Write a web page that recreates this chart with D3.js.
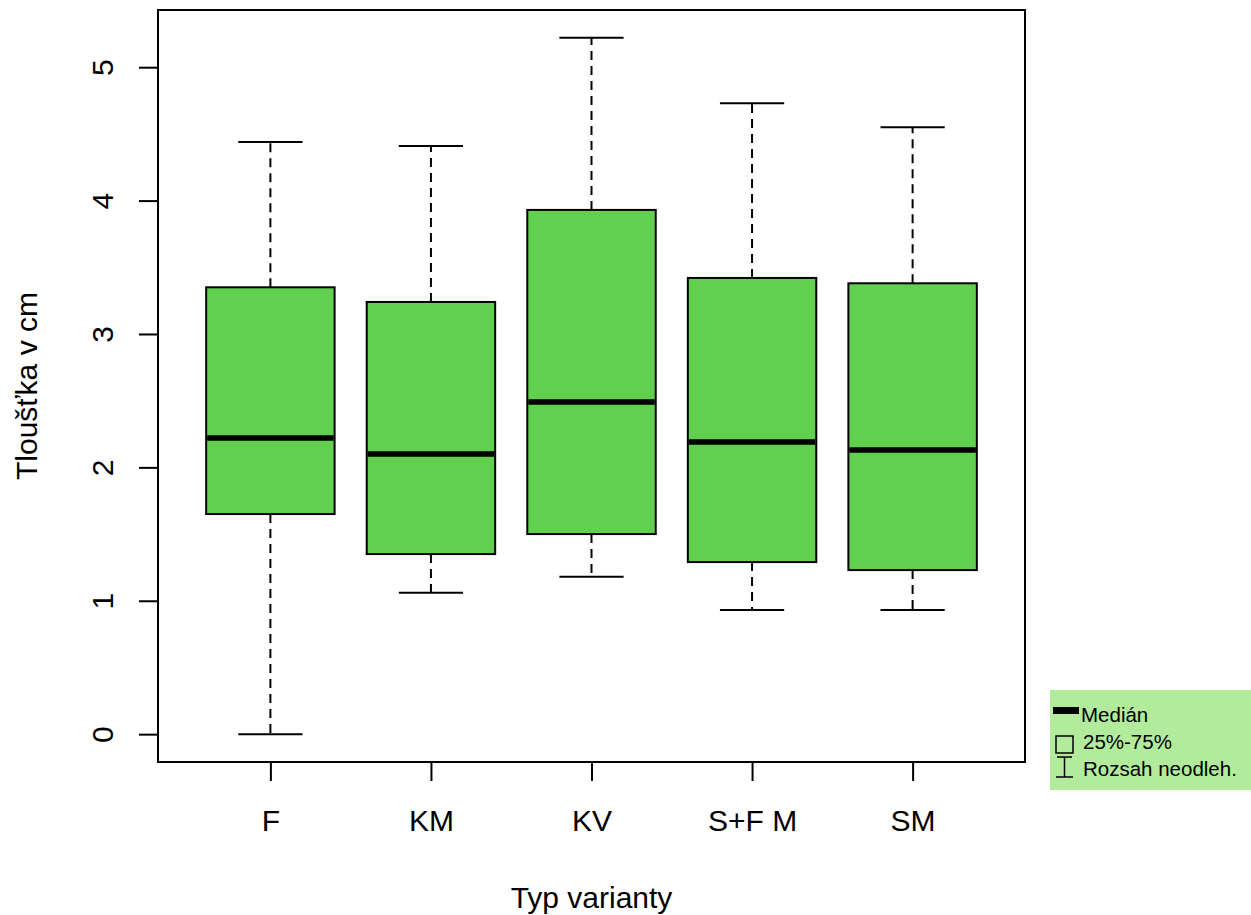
<!DOCTYPE html>
<html>
<head>
<meta charset="utf-8">
<script src="https://cdn.jsdelivr.net/npm/d3@7"></script>
<style>
  body { margin: 0; background: #fff; }
  svg { display: block; font-family: "Liberation Sans", Arial, sans-serif; }
</style>
</head>
<body>
<div id="chart"></div>
<script>
// Box plot data
const categories = ['F', 'KM', 'KV', 'S+F M', 'SM'];
const whiskerLow  = [0.00, 1.06, 1.18, 0.93, 0.93];
const q1          = [1.65, 1.35, 1.50, 1.29, 1.23];
const medians     = [2.22, 2.10, 2.49, 2.19, 2.13];
const q3          = [3.35, 3.24, 3.93, 3.42, 3.38];
const whiskerHigh = [4.44, 4.41, 5.22, 4.73, 4.55];
const yTicks = [0, 1, 2, 3, 4, 5];
const legendLabels = ['Medián', '25%-75%', 'Rozsah neodleh.'];

const boxes = categories.map((name, i) => ({
    name, pos: i + 1,
    lo: whiskerLow[i], q1: q1[i], med: medians[i], q3: q3[i], hi: whiskerHigh[i]
}));

const W = 1251, H = 915;
const plot = { left: 158, top: 10, right: 1025, bottom: 762 };

const svg = d3.select('#chart').append('svg')
    .attr('width', W)
    .attr('height', H);

// R style scales with 4% padding
const x = d3.scaleLinear().domain([0.3, categories.length + 0.7]).range([plot.left, plot.right]);
const yMin = d3.min(whiskerLow), yMax = d3.max(whiskerHigh);
const pad = (yMax - yMin) * 0.04;
const y = d3.scaleLinear().domain([yMin - pad, yMax + pad]).range([plot.bottom, plot.top]);

const boxW = x(1.8) - x(1);
const green = '#61d04f';

// Whiskers
const g = svg.append('g');
const box = g.selectAll('.box')
    .data(boxes)
    .enter()
    .append('g')
    .attr('class', 'box');

box.append('line')
    .attr('x1', d => x(d.pos)).attr('x2', d => x(d.pos))
    .attr('y1', d => y(d.q3)).attr('y2', d => y(d.hi))
    .attr('stroke', '#000').attr('stroke-width', 2).attr('stroke-dasharray', '9,6');
box.append('line')
    .attr('x1', d => x(d.pos)).attr('x2', d => x(d.pos))
    .attr('y1', d => y(d.q1)).attr('y2', d => y(d.lo))
    .attr('stroke', '#000').attr('stroke-width', 2).attr('stroke-dasharray', '9,6');
['hi', 'lo'].forEach(k => {
    box.append('line')
        .attr('x1', d => x(d.pos) - boxW / 4).attr('x2', d => x(d.pos) + boxW / 4)
        .attr('y1', d => y(d[k])).attr('y2', d => y(d[k]))
        .attr('stroke', '#000').attr('stroke-width', 2);
});

// Boxes
box.append('rect')
    .attr('x', d => x(d.pos) - boxW / 2)
    .attr('y', d => y(d.q3))
    .attr('width', boxW)
    .attr('height', d => y(d.q1) - y(d.q3))
    .attr('fill', green)
    .attr('stroke', '#000')
    .attr('stroke-width', 2);

// Medians
box.append('line')
    .attr('x1', d => x(d.pos) - boxW / 2 + 1).attr('x2', d => x(d.pos) + boxW / 2 - 1)
    .attr('y1', d => y(d.med)).attr('y2', d => y(d.med))
    .attr('stroke', '#000').attr('stroke-width', 5.5);

// Frame
svg.append('rect')
    .attr('x', plot.left).attr('y', plot.top)
    .attr('width', plot.right - plot.left)
    .attr('height', plot.bottom - plot.top)
    .attr('fill', 'none').attr('stroke', '#000').attr('stroke-width', 2);

// Y axis
const yAxis = svg.append('g')
    .attr('transform', `translate(${plot.left},0)`)
    .call(d3.axisLeft(y).tickValues(yTicks).tickSize(19).tickFormat(d3.format('d')));
yAxis.select('.domain').remove();
yAxis.selectAll('.tick line').attr('stroke-width', 2);
yAxis.selectAll('.tick text')
    .attr('x', null).attr('dy', null)
    .attr('transform', 'translate(-45,0) rotate(-90)')
    .attr('text-anchor', 'middle')
    .attr('font-size', 30)
    .attr('font-family', '"Liberation Sans", Arial, sans-serif')
    .attr('fill', '#000');

// X axis
const xAxis = svg.append('g')
    .attr('transform', `translate(0,${plot.bottom})`)
    .call(d3.axisBottom(x).tickValues(boxes.map(d => d.pos)).tickSize(19)
        .tickFormat(d => categories[d - 1]));
xAxis.select('.domain').remove();
xAxis.selectAll('.tick line').attr('stroke-width', 2);
xAxis.selectAll('.tick text')
    .attr('y', 69).attr('dy', null)
    .attr('font-size', 30)
    .attr('font-family', '"Liberation Sans", Arial, sans-serif')
    .attr('fill', '#000');

// Axis titles
svg.append('text')
    .attr('x', (plot.left + plot.right) / 2)
    .attr('y', 908)
    .attr('text-anchor', 'middle')
    .attr('font-size', 30)
    .text('Typ varianty');

svg.append('text')
    .attr('transform', `translate(37,${(plot.top + plot.bottom) / 2}) rotate(-90)`)
    .attr('text-anchor', 'middle')
    .attr('font-size', 30)
    .text('Tloušťka v cm');

// Legend
const legend = svg.append('g');
legend.append('rect')
    .attr('x', 1050).attr('y', 690)
    .attr('width', 201).attr('height', 100)
    .attr('fill', '#b3eb9c');

legend.append('rect')
    .attr('x', 1053).attr('y', 707)
    .attr('width', 26).attr('height', 7)
    .attr('fill', '#000');
legend.append('rect')
    .attr('x', 1056).attr('y', 736)
    .attr('width', 17).attr('height', 17)
    .attr('fill', 'none').attr('stroke', '#000').attr('stroke-width', 1.5);
legend.append('path')
    .attr('d', 'M1057,757H1072M1064.5,757V777M1056,777H1073')
    .attr('fill', 'none').attr('stroke', '#000').attr('stroke-width', 1.5);

legend.selectAll('.leg-text')
    .data(legendLabels)
    .enter()
    .append('text')
    .attr('class', 'leg-text')
    .attr('x', (d, i) => i === 0 ? 1081 : 1083)
    .attr('y', (d, i) => 722 + i * 27)
    .attr('font-size', 20.5)
    .text(d => d);
</script>
</body>
</html>
